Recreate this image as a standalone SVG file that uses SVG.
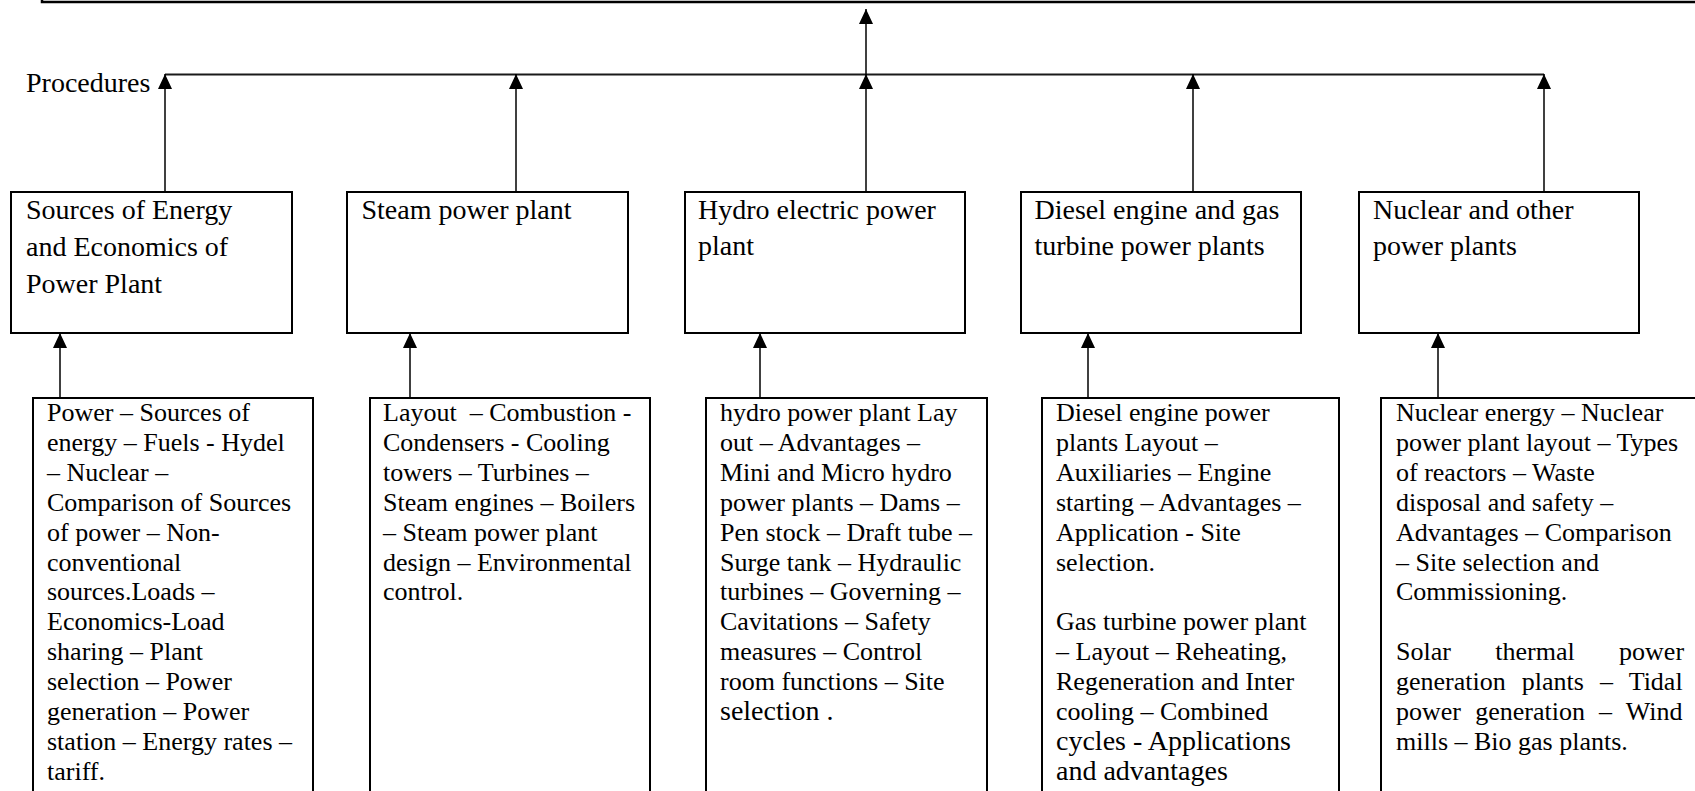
<svg xmlns="http://www.w3.org/2000/svg" width="1695" height="791" viewBox="0 0 1695 791">
  <style>
    .box { fill: #fff; stroke: #000; stroke-width: 2; }
    .frame { fill: #fff; stroke: #000; stroke-width: 2.5; }
    .txt { font-family: "Liberation Serif", "Times New Roman", serif; font-size: 26px; fill: #000; }
    .head { font-size: 28px; }
    .big { font-size: 28px; }
    .bus { stroke: #1a1a1a; stroke-width: 1.8; fill: none; }
    .arrow { stroke: #000; stroke-width: 1.5; fill: none; marker-end: url(#head); }
  </style>
  <defs>
    <marker id="head" markerUnits="userSpaceOnUse" markerWidth="15" markerHeight="14" viewBox="0 0 15 14" refX="15" refY="7" orient="auto">
      <path d="M0,0 L15,7 L0,14 Z" fill="#000"/>
    </marker>
  </defs>
  <rect width="1695" height="791" fill="#fff"/>

  <!-- upper frame (only its lower edge is in view) -->
  <g id="root">
    <rect class="frame" x="42" y="-60" width="1700" height="62"/>
  </g>

  <!-- label on the bus -->
  <g id="procedures-label">
    <text class="txt head" x="26" y="92">Procedures</text>
  </g>

  <!-- connectors -->
  <g id="connectors">
    <line class="bus" x1="165" y1="74.5" x2="1544" y2="74.5"/>
    <line class="arrow" x1="866" y1="74" x2="866" y2="9"/>
    <line class="arrow" x1="165" y1="193" x2="165" y2="74"/>
    <line class="arrow" x1="516" y1="193" x2="516" y2="74"/>
    <line class="arrow" x1="866" y1="193" x2="866" y2="74"/>
    <line class="arrow" x1="1193" y1="193" x2="1193" y2="74"/>
    <line class="arrow" x1="1544" y1="193" x2="1544" y2="74"/>
    <line class="arrow" x1="60" y1="398" x2="60" y2="333"/>
    <line class="arrow" x1="410" y1="398" x2="410" y2="333"/>
    <line class="arrow" x1="760" y1="398" x2="760" y2="333"/>
    <line class="arrow" x1="1088" y1="398" x2="1088" y2="333"/>
    <line class="arrow" x1="1438" y1="398" x2="1438" y2="333"/>
  </g>

  <!-- unit headings -->
  <g id="unit-sources">
    <rect class="box" x="11" y="192" width="281" height="141"/>
    <text class="txt head" x="26" y="219">
      <tspan x="26" dy="0">Sources of Energy</tspan>
      <tspan x="26" dy="37">and Economics of</tspan>
      <tspan x="26" dy="37">Power Plant</tspan>
    </text>
  </g>
  <g id="unit-steam">
    <rect class="box" x="347" y="192" width="281" height="141"/>
    <text class="txt head" x="361.5" y="219">Steam power plant</text>
  </g>
  <g id="unit-hydro">
    <rect class="box" x="685" y="192" width="280" height="141"/>
    <text class="txt head" x="698" y="219">
      <tspan x="698" dy="0">Hydro electric power</tspan>
      <tspan x="698" dy="36">plant</tspan>
    </text>
  </g>
  <g id="unit-diesel">
    <rect class="box" x="1021" y="192" width="280" height="141"/>
    <text class="txt head" x="1034.5" y="219">
      <tspan x="1034.5" dy="0">Diesel engine and gas</tspan>
      <tspan x="1034.5" dy="36">turbine power plants</tspan>
    </text>
  </g>
  <g id="unit-nuclear">
    <rect class="box" x="1359" y="192" width="280" height="141"/>
    <text class="txt head" x="1373" y="219">
      <tspan x="1373" dy="0">Nuclear and other</tspan>
      <tspan x="1373" dy="36">power plants</tspan>
    </text>
  </g>

  <!-- unit contents -->
  <g id="topics-sources">
    <rect class="box" x="33" y="398" width="280" height="430"/>
    <text class="txt" transform="translate(47,421)">
      <tspan x="0" dy="0">Power – Sources of</tspan>
      <tspan x="0" dy="29.9">energy – Fuels - Hydel</tspan>
      <tspan x="0" dy="29.9">– Nuclear –</tspan>
      <tspan x="0" dy="29.9">Comparison of Sources</tspan>
      <tspan x="0" dy="29.9">of power – Non-</tspan>
      <tspan x="0" dy="29.9">conventional</tspan>
      <tspan x="0" dy="29.9">sources.Loads –</tspan>
      <tspan x="0" dy="29.9">Economics-Load</tspan>
      <tspan x="0" dy="29.9">sharing – Plant</tspan>
      <tspan x="0" dy="29.9">selection – Power</tspan>
      <tspan x="0" dy="29.9">generation – Power</tspan>
      <tspan x="0" dy="29.9">station – Energy rates –</tspan>
      <tspan x="0" dy="29.9">tariff.</tspan>
    </text>
  </g>
  <g id="topics-steam">
    <rect class="box" x="370" y="398" width="280" height="430"/>
    <text class="txt" transform="translate(383,421)">
      <tspan x="0" dy="0">Layout&#160; – Combustion -</tspan>
      <tspan x="0" dy="29.9">Condensers - Cooling</tspan>
      <tspan x="0" dy="29.9">towers – Turbines –</tspan>
      <tspan x="0" dy="29.9">Steam engines – Boilers</tspan>
      <tspan x="0" dy="29.9">– Steam power plant</tspan>
      <tspan x="0" dy="29.9">design – Environmental</tspan>
      <tspan x="0" dy="29.9">control.</tspan>
    </text>
  </g>
  <g id="topics-hydro">
    <rect class="box" x="706" y="398" width="281" height="430"/>
    <text class="txt" transform="translate(720,421)">
      <tspan x="0" dy="0">hydro power plant Lay</tspan>
      <tspan x="0" dy="29.9">out – Advantages –</tspan>
      <tspan x="0" dy="29.9">Mini and Micro hydro</tspan>
      <tspan x="0" dy="29.9">power plants – Dams –</tspan>
      <tspan x="0" dy="29.9">Pen stock – Draft tube –</tspan>
      <tspan x="0" dy="29.9">Surge tank – Hydraulic</tspan>
      <tspan x="0" dy="29.9">turbines – Governing –</tspan>
      <tspan x="0" dy="29.9">Cavitations – Safety</tspan>
      <tspan x="0" dy="29.9">measures – Control</tspan>
      <tspan x="0" dy="29.9">room functions – Site</tspan>
      <tspan x="0" dy="29.9" class="big">selection .</tspan>
    </text>
  </g>
  <g id="topics-diesel">
    <rect class="box" x="1042" y="398" width="297" height="430"/>
    <text class="txt" transform="translate(1056,421)">
      <tspan x="0" dy="0">Diesel engine power</tspan>
      <tspan x="0" dy="29.9">plants Layout –</tspan>
      <tspan x="0" dy="29.9">Auxiliaries – Engine</tspan>
      <tspan x="0" dy="29.9">starting – Advantages –</tspan>
      <tspan x="0" dy="29.9">Application - Site</tspan>
      <tspan x="0" dy="29.9">selection.</tspan>
      <tspan x="0" dy="59.8">Gas turbine power plant</tspan>
      <tspan x="0" dy="29.9">– Layout – Reheating,</tspan>
      <tspan x="0" dy="29.9">Regeneration and Inter</tspan>
      <tspan x="0" dy="29.9">cooling – Combined</tspan>
      <tspan x="0" dy="29.9" class="big">cycles - Applications</tspan>
      <tspan x="0" dy="29.9" class="big">and advantages</tspan>
    </text>
  </g>
  <g id="topics-nuclear">
    <rect class="box" x="1381" y="398" width="330" height="430"/>
    <text class="txt" transform="translate(1396,421)">
      <tspan x="0" dy="0">Nuclear energy – Nuclear</tspan>
      <tspan x="0" dy="29.9">power plant layout – Types</tspan>
      <tspan x="0" dy="29.9">of reactors – Waste</tspan>
      <tspan x="0" dy="29.9">disposal and safety –</tspan>
      <tspan x="0" dy="29.9">Advantages – Comparison</tspan>
      <tspan x="0" dy="29.9">– Site selection and</tspan>
      <tspan x="0" dy="29.9">Commissioning.</tspan>
      <!-- justified paragraph -->
      <tspan x="0" dy="59.8" word-spacing="37.9">Solar thermal power</tspan>
      <tspan x="0" dy="29.9" word-spacing="9.6">generation plants – Tidal</tspan>
      <tspan x="0" dy="29.9" word-spacing="7.7">power generation – Wind</tspan>
      <tspan x="0" dy="29.9">mills – Bio gas plants.</tspan>
    </text>
  </g>
</svg>
